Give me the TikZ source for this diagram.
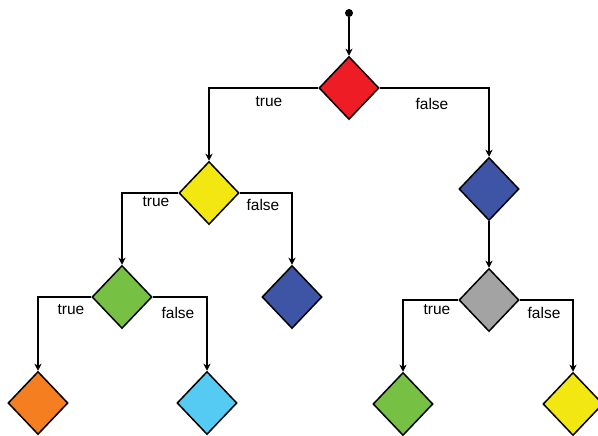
\documentclass[tikz,border=0pt]{standalone}
\usepackage{fontspec}
\setmainfont{Liberation Sans}
\usetikzlibrary{shapes.geometric,arrows.meta}
\definecolor{cred}{HTML}{EE1C24}
\definecolor{cyellow}{HTML}{F2E711}
\definecolor{cblue}{HTML}{3D55A4}
\definecolor{cgreen}{HTML}{76C043}
\definecolor{cgray}{HTML}{A3A3A3}
\definecolor{corange}{HTML}{F47E20}
\definecolor{ccyan}{HTML}{55CBF3}
\tikzset{
  dec/.style={shape=diamond, draw=black, line width=1.5pt, inner sep=0pt,
    minimum width=60pt, minimum height=63pt},
  conn/.style={line width=1.5pt, -{Stealth[length=7pt,width=7pt,inset=2pt]}},
  lbl/.style={font=\fontsize{15.5}{18}\selectfont, inner sep=0pt}
}
\begin{document}
\begin{tikzpicture}[x=1pt,y=-1pt]
\useasboundingbox (0,0) rectangle (598,436);
\clip (0,0) rectangle (598,436);
\fill[white] (0,0) rectangle (598,436);
\node[circle, fill=black, inner sep=0pt, minimum size=8pt] (start) at (349,13) {};
\node[dec, fill=cred] (n1) at (349,88) {};
\node[dec, fill=cyellow] (n2) at (209,193) {};
\node[dec, fill=cblue] (n3) at (489,189) {};
\node[dec, fill=cgreen] (n4) at (122,297) {};
\node[dec, fill=cblue] (n5) at (292,297) {};
\node[dec, fill=cgray] (n6) at (489,300) {};
\node[dec, fill=corange] (n7) at (38,403) {};
\node[dec, fill=ccyan] (n8) at (207,403) {};
\node[dec, fill=cgreen] (n9) at (403,404) {};
\node[dec, fill=cyellow] (n10) at (573,404) {};

\draw[conn] (start) -- (n1);
\draw[conn] (n1.west) -| (n2.north);
\draw[conn] (n1.east) -| (n3.north);
\draw[conn] (n2.west) -| (n4.north);
\draw[conn] (n2.east) -| (n5.north);
\draw[conn] (n3) -- (n6);
\draw[conn] (n4.west) -| (n7.north);
\draw[conn] (n4.east) -| (n8.north);
\draw[conn] (n6.west) -| (n9.north);
\draw[conn] (n6.east) -| (n10.north);

\node[lbl] (t1) at (269,102) {true};
\node[lbl] (f1) at (432,104) {false};
\node[lbl] (t2) at (156,202) {true};
\node[lbl] (f2) at (263,205) {false};
\node[lbl] (t4) at (71,310) {true};
\node[lbl] (f4) at (178,313) {false};
\node[lbl] (t6) at (437,310) {true};
\node[lbl] (f6) at (544,313) {false};
\end{tikzpicture}
\end{document}
